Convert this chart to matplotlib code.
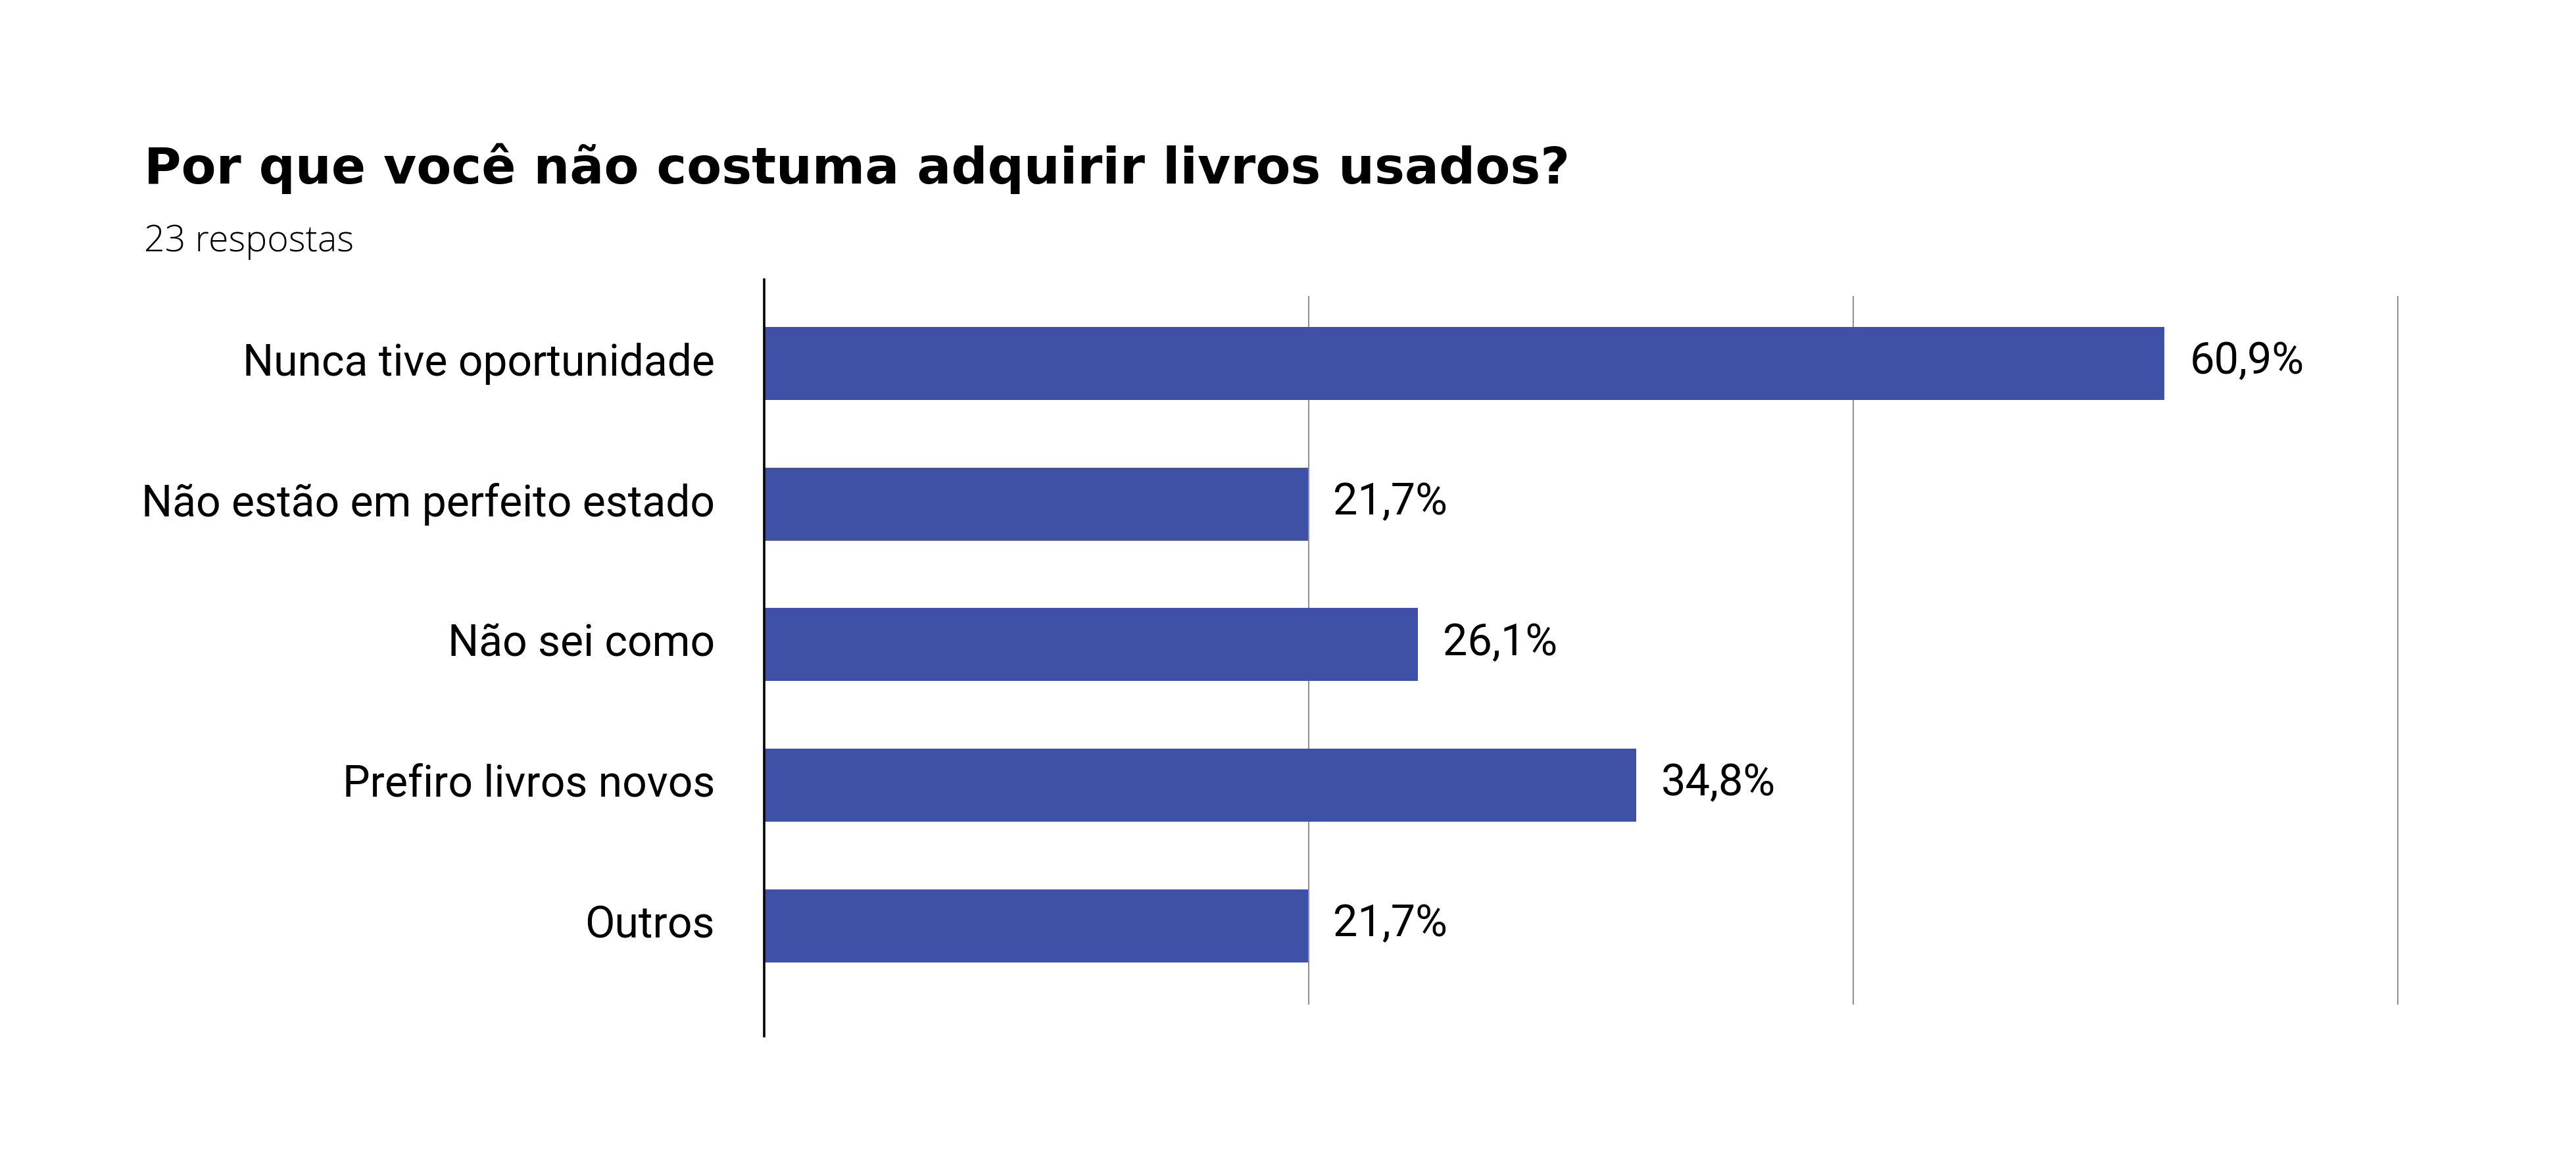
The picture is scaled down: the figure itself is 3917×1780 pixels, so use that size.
import matplotlib
matplotlib.use("Agg")
import matplotlib.pyplot as plt

# dados do gráfico (Google Forms)
categorias = ["Nunca tive oportunidade", "Não estão em perfeito estado",
              "Não sei como", "Prefiro livros novos", "Outros"]
comprimentos = [55.9, 21.7, 26.1, 34.8, 21.7]   # comprimento das barras (%)
rotulos = ["60,9%", "21,7%", "26,1%", "34,8%", "21,7%"]
grade = [21.74, 43.48, 65.22]
titulo = "Por que você não costuma adquirir livros usados?"
subtitulo = "23 respostas"

W, H = 3917, 1780
fig = plt.figure(figsize=(W / 100, H / 100), dpi=100)
fig.patch.set_facecolor("white")

ax = fig.add_axes([1162 / W, 1 - 1527 / H, (3657 - 1162) / W, (1527 - 450) / H])
y = list(range(len(categorias)))
ax.barh(y, comprimentos, height=0.52, color="#3f51a6", zorder=3)

ax.set_xlim(0, 65.5)
ax.set_ylim(4.561, -0.481)
ax.set_xticks(grade)
ax.set_xticklabels([])
ax.tick_params(axis="x", length=0)
ax.grid(axis="x", color="#858585", linewidth=1.3, zorder=0)

ax.set_yticks(y)
ax.set_yticklabels(categorias, fontsize=47.5, family="Roboto", va="center")
ax.tick_params(axis="y", length=0, pad=54)

for s in ax.spines.values():
    s.set_visible(False)
ax.axvline(0, ymin=-0.045, ymax=1.023, color="black", linewidth=2.6, clip_on=False, zorder=4)

for yi, v, r in zip(y, comprimentos, rotulos):
    ax.text(v + 1.0, yi - 0.01, r, va="center", ha="left", fontsize=48, family="Roboto")

fig.text(219 / W, 1 - 279 / H, titulo, fontsize=55.5, fontweight="bold",
         family="DejaVu Sans", va="baseline", ha="left")
fig.text(219 / W, 1 - 382 / H, subtitulo, fontsize=40, fontweight=300,
         family="Open Sans", va="baseline", ha="left")

fig.savefig("out.png", dpi=100, facecolor="white")
